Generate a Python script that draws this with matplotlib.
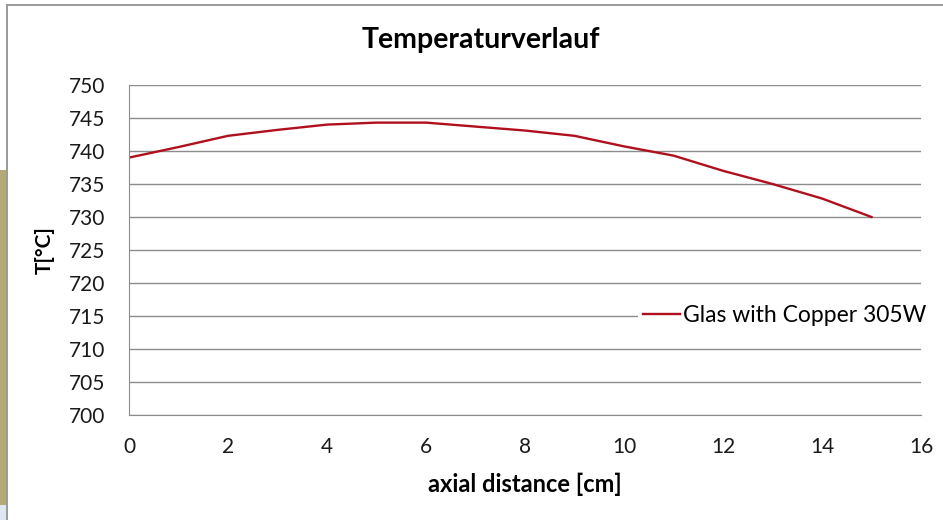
import matplotlib
matplotlib.use("Agg")
import matplotlib.pyplot as plt
import matplotlib.patches as patches

# data
distance_cm = [0, 1, 2, 3, 4, 5, 6, 7, 8, 9, 10, 11, 12, 13, 14, 15]
temperature_c = [739.0, 740.6, 742.3, 743.2, 744.0, 744.3, 744.3, 743.7,
                 743.1, 742.3, 740.7, 739.3, 737.0, 735.0, 732.8, 730.0]
series_label = 'Glas with Copper 305W'
x_ticks = [0, 2, 4, 6, 8, 10, 12, 14, 16]
y_ticks = [700, 705, 710, 715, 720, 725, 730, 735, 740, 745, 750]

plt.rcParams['font.family'] = ['Lato', 'DejaVu Sans']

W, H = 943, 520
fig = plt.figure(figsize=(W / 100, H / 100), dpi=100)
ax = fig.add_axes([129 / W, 1 - 415 / H, 792 / W, 330 / H])

# bit of the window behind the chart on the left edge
fig.patches.append(patches.Rectangle((0, 1 - 505 / H), 7 / W, 335 / H,
                                     transform=fig.transFigure,
                                     facecolor='#b3aa78', edgecolor='none'))
fig.patches.append(patches.Rectangle((0, 0), 7 / W, 15 / H,
                                     transform=fig.transFigure,
                                     facecolor='#dfe7f0', edgecolor='none'))
# outer chart frame like the Excel chart area
fig.patches.append(patches.Rectangle((7 / W, -0.05), 1.0, 1 - 5 / H + 0.05,
                                     transform=fig.transFigure, fill=False,
                                     edgecolor='#9a9a9a', linewidth=1.4))

ax.plot(distance_cm, temperature_c, color='#b0101e', linewidth=1.7, label=series_label)

ax.set_xlim(0, 16)
ax.set_ylim(700, 750)
ax.set_xticks(x_ticks)
ax.set_yticks(y_ticks)
ax.grid(axis='y', color='#8c8c8c', linewidth=1)
ax.set_axisbelow(True)
for side in ('top', 'right'):
    ax.spines[side].set_visible(False)
for side in ('left', 'bottom'):
    ax.spines[side].set_color('#8c8c8c')
ax.tick_params(length=0, labelsize=15, colors='#1a1a1a')
ax.tick_params(axis='y', pad=17)
ax.tick_params(axis='x', pad=16)

fig.text(481 / W, 1 - 40 / H, 'Temperaturverlauf', fontsize=20.5, fontweight='bold',
         ha='center', va='center')
ax.set_xlabel('axial distance [cm]', fontsize=17, fontweight='bold', labelpad=11)
ax.set_ylabel('T[°C]', fontsize=15, fontweight='bold', labelpad=10)

leg = ax.legend(loc='center left', bbox_to_anchor=(0.643, 0.3), frameon=True,
                fontsize=16.5, handlelength=1.62, handletextpad=0.14,
                borderpad=0.2, borderaxespad=0)
leg.get_frame().set_facecolor('white')
leg.get_frame().set_edgecolor('none')
leg.get_frame().set_alpha(1)
leg.set_zorder(5)

fig.savefig('out.png', dpi=100)
